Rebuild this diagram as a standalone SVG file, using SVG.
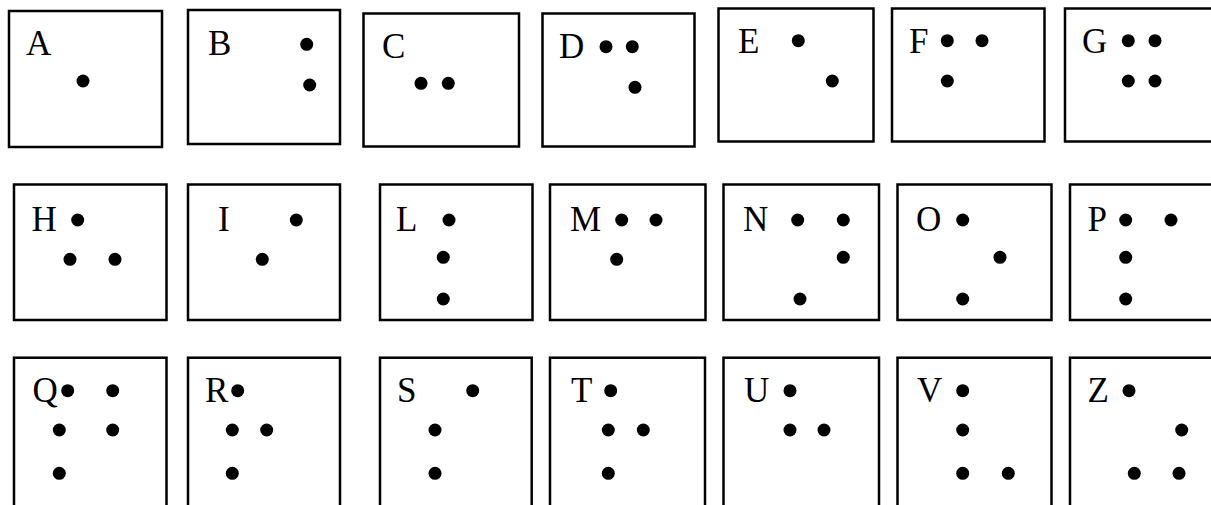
<svg xmlns="http://www.w3.org/2000/svg" width="1211" height="505" viewBox="0 0 1211 505">
<style>
  .box { fill: #fff; stroke: #000; stroke-width: 2.5; }
  .lbl { font-family: "Liberation Serif", "Times New Roman", serif; font-size: 35px; fill: #000; }
  .dot { fill: #000; }
</style>
<rect x="0" y="0" width="1211" height="505" fill="#fff"/>
<g id="cell-A"><rect class="box" x="9" y="11" width="153" height="136"/><text class="lbl" x="26" y="55">A</text><circle class="dot" cx="83" cy="81" r="6.5"/></g>
<g id="cell-B"><rect class="box" x="188" y="10" width="152" height="134"/><text class="lbl" x="208" y="55">B</text><circle class="dot" cx="306.7" cy="44.3" r="6.5"/><circle class="dot" cx="309.7" cy="85" r="6.5"/></g>
<g id="cell-C"><rect class="box" x="363.5" y="13.5" width="155.5" height="133"/><text class="lbl" x="382" y="58">C</text><circle class="dot" cx="421" cy="83.3" r="6.5"/><circle class="dot" cx="448.3" cy="83.3" r="6.5"/></g>
<g id="cell-D"><rect class="box" x="542.5" y="13.5" width="152" height="133"/><text class="lbl" x="559" y="58">D</text><circle class="dot" cx="606" cy="46.7" r="6.5"/><circle class="dot" cx="632.3" cy="46.7" r="6.5"/><circle class="dot" cx="635" cy="87.3" r="6.5"/></g>
<g id="cell-E"><rect class="box" x="718.5" y="8.5" width="155" height="133"/><text class="lbl" x="738" y="52.7">E</text><circle class="dot" cx="798.3" cy="40.7" r="6.5"/><circle class="dot" cx="832.3" cy="81" r="6.5"/></g>
<g id="cell-F"><rect class="box" x="892" y="8.5" width="152.5" height="133"/><text class="lbl" x="909" y="52.7">F</text><circle class="dot" cx="947.3" cy="40.7" r="6.5"/><circle class="dot" cx="982" cy="40.7" r="6.5"/><circle class="dot" cx="947.3" cy="81" r="6.5"/></g>
<g id="cell-G"><rect class="box" x="1065" y="8.5" width="160" height="133"/><text class="lbl" x="1082" y="52.7">G</text><circle class="dot" cx="1128.3" cy="40.7" r="6.5"/><circle class="dot" cx="1155" cy="40.7" r="6.5"/><circle class="dot" cx="1128.3" cy="81" r="6.5"/><circle class="dot" cx="1155" cy="81" r="6.5"/></g>

<g id="cell-H"><rect class="box" x="14" y="184.5" width="152.5" height="135.5"/><text class="lbl" x="31.5" y="231">H</text><circle class="dot" cx="77.7" cy="220" r="6.5"/><circle class="dot" cx="70" cy="259.3" r="6.5"/><circle class="dot" cx="115" cy="259.3" r="6.5"/></g>
<g id="cell-I"><rect class="box" x="188" y="184.5" width="152" height="135.5"/><text class="lbl" x="218" y="231">I</text><circle class="dot" cx="296.3" cy="220" r="6.5"/><circle class="dot" cx="262.3" cy="259.3" r="6.5"/></g>
<g id="cell-L"><rect class="box" x="380" y="184.5" width="152.5" height="135.5"/><text class="lbl" x="396" y="231">L</text><circle class="dot" cx="449" cy="220" r="6.5"/><circle class="dot" cx="443.3" cy="257.3" r="6.5"/><circle class="dot" cx="443.3" cy="299" r="6.5"/></g>
<g id="cell-M"><rect class="box" x="550" y="184.5" width="155.5" height="135.5"/><text class="lbl" x="570" y="231">M</text><circle class="dot" cx="621.7" cy="220" r="6.5"/><circle class="dot" cx="656" cy="220" r="6.5"/><circle class="dot" cx="616.7" cy="259.3" r="6.5"/></g>
<g id="cell-N"><rect class="box" x="723.5" y="184.5" width="155.5" height="135.5"/><text class="lbl" x="743" y="231">N</text><circle class="dot" cx="797.7" cy="220" r="6.5"/><circle class="dot" cx="843.3" cy="220" r="6.5"/><circle class="dot" cx="843.3" cy="257.3" r="6.5"/><circle class="dot" cx="800" cy="299" r="6.5"/></g>
<g id="cell-O"><rect class="box" x="897.5" y="184.5" width="154" height="135.5"/><text class="lbl" x="916" y="231">O</text><circle class="dot" cx="962.7" cy="220" r="6.5"/><circle class="dot" cx="1000" cy="257.3" r="6.5"/><circle class="dot" cx="962.7" cy="299" r="6.5"/></g>
<g id="cell-P"><rect class="box" x="1070" y="184.5" width="160" height="135.5"/><text class="lbl" x="1087.5" y="231">P</text><circle class="dot" cx="1125.7" cy="220" r="6.5"/><circle class="dot" cx="1171" cy="220" r="6.5"/><circle class="dot" cx="1125.7" cy="257.3" r="6.5"/><circle class="dot" cx="1125.7" cy="299" r="6.5"/></g>

<g id="cell-Q"><rect class="box" x="14" y="357.7" width="152.5" height="170"/><text class="lbl" x="32.5" y="401.7">Q</text><circle class="dot" cx="67.7" cy="390.7" r="6.5"/><circle class="dot" cx="112.7" cy="390.7" r="6.5"/><circle class="dot" cx="59.3" cy="430" r="6.5"/><circle class="dot" cx="112.7" cy="430" r="6.5"/><circle class="dot" cx="59.3" cy="473.3" r="6.5"/></g>
<g id="cell-R"><rect class="box" x="188" y="357.7" width="152" height="170"/><text class="lbl" x="205" y="401.7">R</text><circle class="dot" cx="237.7" cy="390.7" r="6.5"/><circle class="dot" cx="232.3" cy="430" r="6.5"/><circle class="dot" cx="266.7" cy="430" r="6.5"/><circle class="dot" cx="232.3" cy="473.3" r="6.5"/></g>
<g id="cell-S"><rect class="box" x="380" y="357.7" width="151.7" height="170"/><text class="lbl" x="397" y="401.7">S</text><circle class="dot" cx="472.7" cy="390.7" r="6.5"/><circle class="dot" cx="435" cy="430" r="6.5"/><circle class="dot" cx="435" cy="473.3" r="6.5"/></g>
<g id="cell-T"><rect class="box" x="550" y="357.7" width="155" height="170"/><text class="lbl" x="571" y="401.7">T</text><circle class="dot" cx="610.7" cy="390.7" r="6.5"/><circle class="dot" cx="608.3" cy="430" r="6.5"/><circle class="dot" cx="643.3" cy="430" r="6.5"/><circle class="dot" cx="608.3" cy="473.3" r="6.5"/></g>
<g id="cell-U"><rect class="box" x="723.5" y="357.7" width="155.5" height="170"/><text class="lbl" x="744" y="401.7">U</text><circle class="dot" cx="790" cy="390.7" r="6.5"/><circle class="dot" cx="790" cy="430" r="6.5"/><circle class="dot" cx="824" cy="430" r="6.5"/></g>
<g id="cell-V"><rect class="box" x="897.5" y="357.7" width="154" height="170"/><text class="lbl" x="917" y="401.7">V</text><circle class="dot" cx="962.7" cy="390.7" r="6.5"/><circle class="dot" cx="962.7" cy="430" r="6.5"/><circle class="dot" cx="962.7" cy="473.3" r="6.5"/><circle class="dot" cx="1008.3" cy="473.3" r="6.5"/></g>
<g id="cell-Z"><rect class="box" x="1070" y="357.7" width="160" height="170"/><text class="lbl" x="1087.5" y="401.7">Z</text><circle class="dot" cx="1129" cy="390.7" r="6.5"/><circle class="dot" cx="1181.7" cy="430" r="6.5"/><circle class="dot" cx="1134.3" cy="473.3" r="6.5"/><circle class="dot" cx="1179" cy="473.3" r="6.5"/></g>
<g id="connectors"></g>
</svg>
